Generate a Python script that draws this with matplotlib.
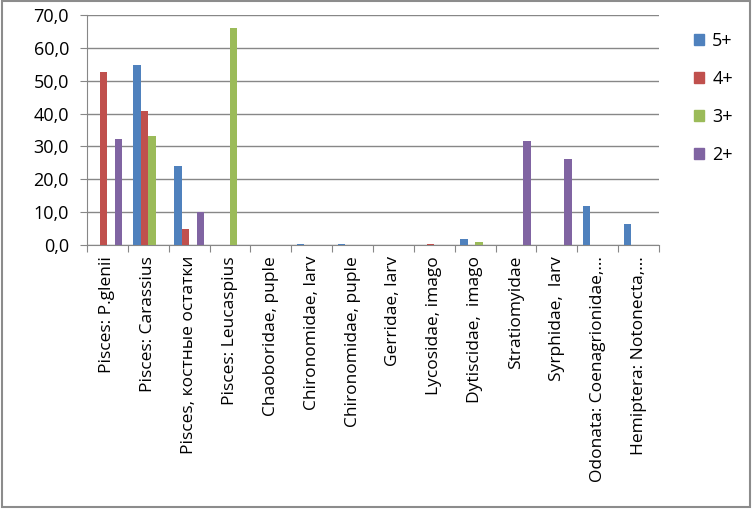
import matplotlib
matplotlib.use("Agg")
import matplotlib.pyplot as plt
import numpy as np
from matplotlib.patches import Rectangle, Patch

categories = [
    "Pisces: P.glenii",
    "Pisces: Carassius",
    "Pisces, костные остатки",
    "Pisces: Leucaspius",
    "Chaoboridae, puple",
    "Chironomidae, larv",
    "Chironomidae, puple",
    "Gerridae, larv",
    "Lycosidae, imago",
    "Dytiscidae,  imago",
    "Stratiomyidae",
    "Syrphidae,  larv",
    "Odonata: Coenagrionidae,…",
    "Hemiptera: Notonecta,…",
]

series_names = ["5+", "4+", "3+", "2+"]
s5 = [0, 54.8, 23.9, 0, 0, 0.4, 0.4, 0, 0, 1.8, 0, 0, 11.9, 6.4]
s4 = [52.8, 40.9, 4.8, 0, 0, 0, 0, 0, 0.3, 0, 0, 0, 0, 0]
s3 = [0, 33.2, 0, 66.0, 0, 0, 0, 0, 0, 0.8, 0, 0, 0, 0]
s2 = [32.2, 0, 10.1, 0, 0, 0, 0, 0, 0, 0, 31.6, 26.2, 0, 0]
colors = ["#4F81BD", "#C0504D", "#9BBB59", "#8064A2"]

plt.rcParams['font.family'] = ['Open Sans', 'DejaVu Sans']

fig = plt.figure(figsize=(7.52, 5.11), dpi=100)
ax = fig.add_axes([87 / 752, 266 / 511, 572 / 752, 230 / 511])

x = np.arange(len(categories))
w = 1 / 5.5
for i, (vals, c) in enumerate(zip([s5, s4, s3, s2], colors)):
    ax.bar(x + (i - 1.5) * w, vals, width=w, color=c, zorder=3)

ax.set_xlim(-0.5, len(categories) - 0.5)
ax.set_ylim(0, 70)
ax.set_yticks(np.arange(0, 71, 10))
ax.set_yticklabels([f"{v:.1f}".replace(".", ",") for v in np.arange(0, 71, 10)], fontsize=13)
ax.yaxis.grid(True, color="#878787", linewidth=1, zorder=0)

ax.set_xticks(np.arange(-0.5, len(categories), 1))
ax.set_xticklabels([])
ax.set_xticks(x, minor=True)
ax.set_xticklabels(categories, minor=True, rotation=90, fontsize=12.5, va="top", ha="center")
ax.tick_params(axis="x", which="minor", length=0, pad=8)
ax.tick_params(axis="x", which="major", length=5, color="#878787")
ax.tick_params(axis="y", length=5, color="#878787", pad=8)

for side in ["top", "right"]:
    ax.spines[side].set_visible(False)
for side in ["left", "bottom"]:
    ax.spines[side].set_color("#878787")

handles = [Patch(color=c) for c in colors]
fig.legend(handles, series_names, loc="upper left", bbox_to_anchor=(678 / 752, 1 - 16 / 511),
           frameon=False, fontsize=13, handlelength=0.55, handleheight=0.55,
           handletextpad=0.45, labelspacing=1.1)

fig.patches.append(Rectangle((0.002, 0.008), 0.996, 0.99, transform=fig.transFigure,
                             fill=False, edgecolor="#8c8c8c", linewidth=1.5))

fig.savefig("out.png", dpi=100)
